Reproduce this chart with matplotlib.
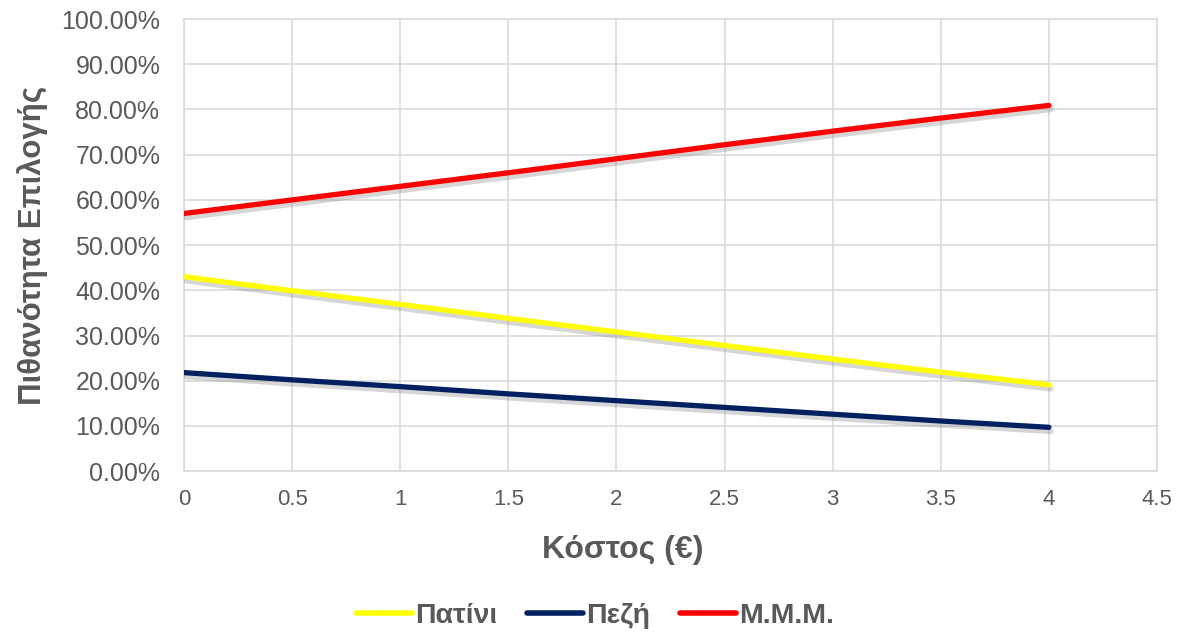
import matplotlib
matplotlib.use("Agg")
import matplotlib.pyplot as plt
import matplotlib.patheffects as pe
from matplotlib.ticker import PercentFormatter

plt.rcParams['font.family'] = ['Liberation Sans', 'DejaVu Sans']

cost = [0, 0.5, 1, 1.5, 2, 2.5, 3, 3.5, 4]
patini = [43.0, 39.9, 36.9, 33.8, 30.8, 27.8, 24.8, 21.9, 19.1]
pezi = [21.8, 20.2, 18.7, 17.1, 15.6, 14.1, 12.6, 11.1, 9.7]
mmm = [57.0, 60.0, 63.0, 66.0, 69.1, 72.2, 75.2, 78.1, 80.9]

series = [("Πατίνι", patini, "#FFFF00"),
          ("Πεζή", pezi, "#002060"),
          ("Μ.Μ.Μ.", mmm, "#FF0000")]

txt = "#595959"
grid = "#D9D9D9"

fig = plt.figure(figsize=(11.83, 6.35), dpi=100)
ax = fig.add_axes([0.1555, 0.258, 0.8225, 0.712])

shadow = [pe.SimpleLineShadow(offset=(1.5, -3), shadow_color="#8c8c8c", alpha=0.35),
          pe.Normal()]
for name, vals, col in series:
    ax.plot(cost, vals, color=col, lw=3.8, label=name,
            solid_capstyle="round", path_effects=shadow, zorder=3)

ax.set_xlim(0, 4.5)
ax.set_ylim(0, 100)
ax.set_xticks([0, 0.5, 1, 1.5, 2, 2.5, 3, 3.5, 4, 4.5])
ax.set_xticklabels(["0", "0.5", "1", "1.5", "2", "2.5", "3", "3.5", "4", "4.5"])
ax.set_yticks(range(0, 101, 10))
ax.yaxis.set_major_formatter(PercentFormatter(100, decimals=2))
ax.tick_params(axis="both", length=0, labelcolor=txt)
ax.tick_params(axis="x", labelsize=16, pad=13)
ax.tick_params(axis="y", labelsize=18, pad=17)
ax.grid(True, color=grid, lw=1.2)
ax.set_axisbelow(True)
for s in ax.spines.values():
    s.set_color(grid)
    s.set_linewidth(1.2)

ax.set_xlabel("Κόστος (€)", fontsize=23, fontweight="bold", color=txt)
ax.xaxis.set_label_coords(0.451, -0.142)
ax.set_ylabel("Πιθανότητα Επιλογής", fontsize=22.5, fontweight="bold", color=txt)
ax.yaxis.set_label_coords(-0.14, 0.5)

leg = fig.legend(loc="center", bbox_to_anchor=(0.503, 0.03), ncol=3, frameon=False,
                 prop={"size": 20.5, "weight": "bold"}, handlelength=1.95,
                 handletextpad=0.12, columnspacing=1.05)
for t in leg.get_texts():
    t.set_color(txt)
for h in leg.get_lines():
    h.set_linewidth(4)
    h.set_solid_capstyle("round")
    h.set_path_effects([])

fig.savefig("out.png", dpi=100)
